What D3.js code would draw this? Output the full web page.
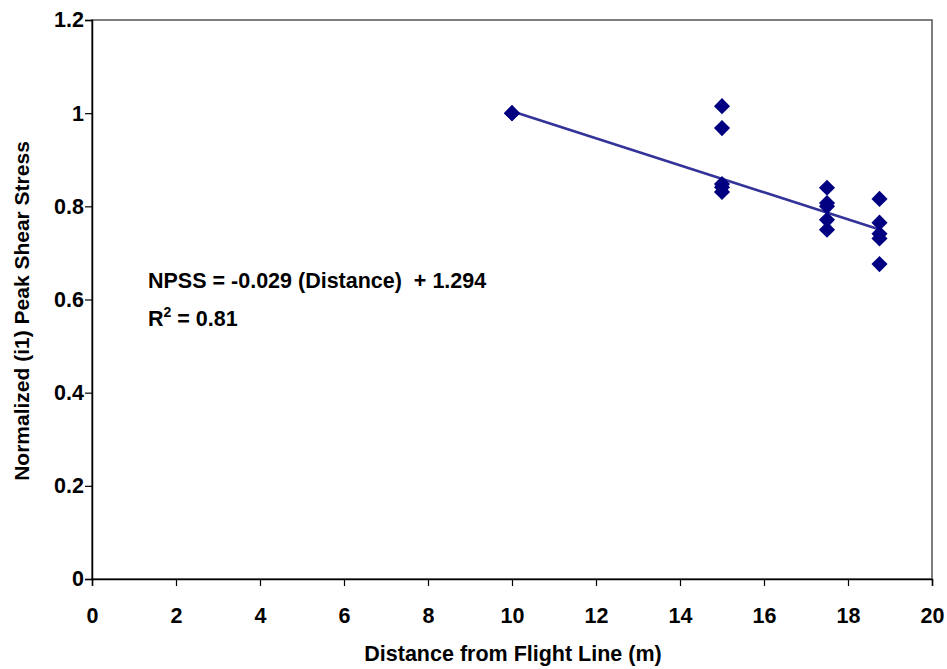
<!DOCTYPE html>
<html>
<head>
<meta charset="utf-8">
<script src="https://cdn.jsdelivr.net/npm/d3@7"></script>
<style>
  html, body { margin: 0; padding: 0; background: #fff; }
  svg text { font-family: "Liberation Sans", Arial, sans-serif; font-weight: bold; fill: #000; }
</style>
</head>
<body>
<svg id="chart" width="947" height="669"></svg>
<script>
// Measured distance from the flight line (m) and normalized peak shear stress
const distance = [10, 10, 15, 15, 15, 15, 15, 17.5, 17.5, 17.5, 17.5, 17.5, 18.75, 18.75, 18.75, 18.75, 18.75];
const npss     = [1.0, 1.0, 1.015, 0.968, 0.848, 0.841, 0.831, 0.840, 0.807, 0.800, 0.771, 0.750, 0.816, 0.765, 0.741, 0.731, 0.676];

// Fitted trend: NPSS = slope * distance + intercept
const fitSlope = -0.029;
const fitIntercept = 1.294;
const fitRange = [10, 18.75];

const xTicks = [0, 2, 4, 6, 8, 10, 12, 14, 16, 18, 20];
const yTicks = [0, 0.2, 0.4, 0.6, 0.8, 1, 1.2];

const svg = d3.select("#chart");
const margin = { left: 92, right: 15, top: 20, bottom: 90 };
const W = 947, H = 669;
const FONT = "21.5px";

const x = d3.scaleLinear().domain([0, 20]).range([margin.left, W - margin.right]);
const y = d3.scaleLinear().domain([0, 1.2]).range([H - margin.bottom, margin.top]);

// plot area frame
svg.append("rect")
  .attr("x", x(0)).attr("y", y(1.2))
  .attr("width", x(20) - x(0)).attr("height", y(0) - y(1.2))
  .attr("fill", "none").attr("stroke", "#555").attr("stroke-width", 1.5);

// axes
const xAxis = svg.append("g")
  .attr("transform", `translate(0,${y(0)})`)
  .call(d3.axisBottom(x).tickValues(xTicks).tickFormat(d3.format("d")).tickSize(7).tickPadding(22));
const yAxis = svg.append("g")
  .attr("transform", `translate(${x(0)},0)`)
  .call(d3.axisLeft(y).tickValues(yTicks).tickFormat(d => d === 0 ? "0" : d3.format("~g")(d)).tickSize(7).tickPadding(1));

[xAxis, yAxis].forEach(g => {
  g.select(".domain").attr("stroke", "#000").attr("stroke-width", 1.5);
  g.selectAll(".tick line").attr("stroke", "#000").attr("stroke-width", 1.2);
  g.selectAll(".tick text").style("font-size", FONT).style("font-family", '"Liberation Sans", Arial, sans-serif').style("font-weight", "bold").attr("fill", "#000");
});

// trend line
const line = d3.line().x(d => x(d)).y(d => y(fitSlope * d + fitIntercept));
svg.append("path")
  .datum(fitRange)
  .attr("d", line)
  .attr("fill", "none")
  .attr("stroke", "#333399")
  .attr("stroke-width", 2.6);

// data points as diamonds
const diamond = d3.symbol().type(d3.symbolSquare).size(130);
svg.append("g").selectAll("path")
  .data(distance.map((d, i) => [d, npss[i]]))
  .join("path")
  .attr("d", diamond)
  .attr("transform", d => `translate(${x(d[0])},${y(d[1])}) rotate(45)`)
  .attr("fill", "#000080");

// regression annotation
const ann = svg.append("g").style("font-size", FONT);
ann.append("text").attr("x", 148).attr("y", 288)
  .text("NPSS = -0.029 (Distance)  + 1.294")
  .attr("xml:space", "preserve").style("white-space", "pre");
const r2 = ann.append("text").attr("x", 148).attr("y", 326);
r2.append("tspan").text("R");
r2.append("tspan").text("2").attr("dy", -9).style("font-size", "14px");
r2.append("tspan").text(" = 0.81").attr("dy", 9);

// axis titles
svg.append("text")
  .attr("x", 513).attr("y", 661)
  .attr("text-anchor", "middle").style("font-size", FONT)
  .text("Distance from Flight Line (m)");
svg.append("text")
  .attr("transform", `translate(29,311) rotate(-90)`)
  .attr("text-anchor", "middle").style("font-size", "21px")
  .text("Normalized (i1) Peak Shear Stress");
</script>
</body>
</html>
